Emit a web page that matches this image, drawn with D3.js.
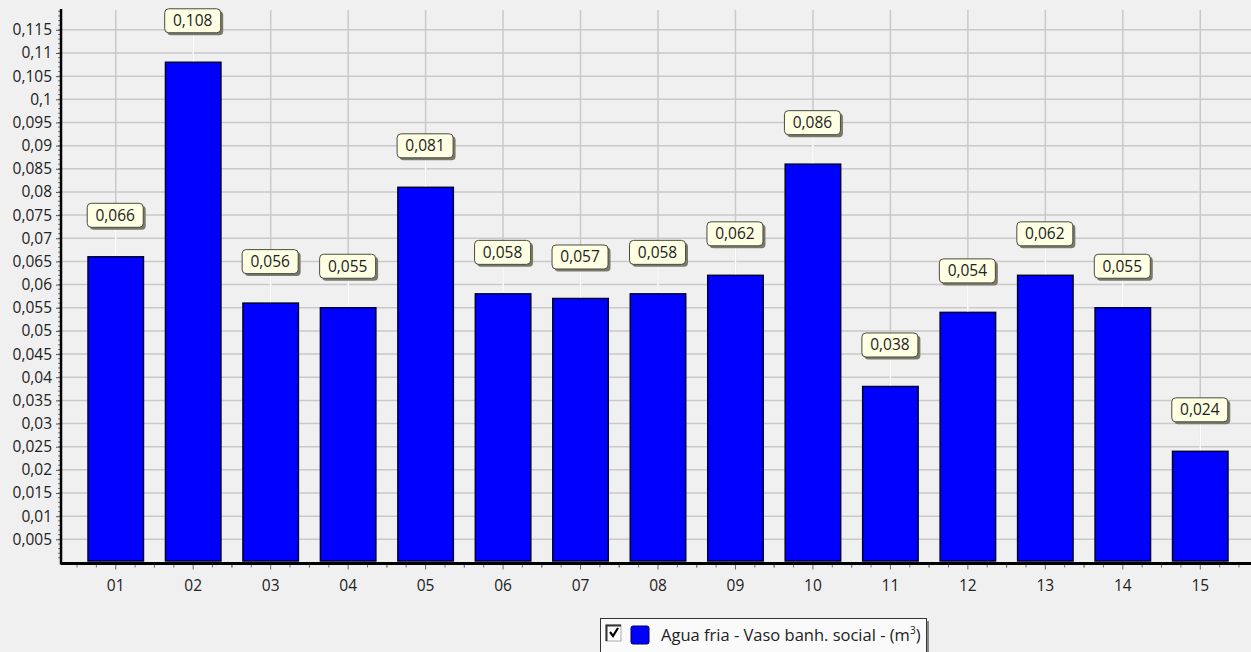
<html>
  <head>
    <meta charset="utf-8">
    <style>
      body { margin: 0; background: #f0f0f0; overflow: hidden; }
      #chart text { font-family: "Open Sans", "Noto Sans", sans-serif; fill: #222; }
    </style>
    <script src="https://d3js.org/d3.v7.min.js"></script>
  </head>
  <body>
    <svg id="chart"></svg>
    <script>
      // data
      const categories = ['01', '02', '03', '04', '05', '06', '07', '08', '09', '10', '11', '12', '13', '14', '15'];
      const values = [0.066, 0.108, 0.056, 0.055, 0.081, 0.058, 0.057, 0.058, 0.062, 0.086, 0.038, 0.054, 0.062, 0.055, 0.024];
      const yTickValues = [0.005, 0.01, 0.015, 0.02, 0.025, 0.03, 0.035, 0.04, 0.045, 0.05, 0.055, 0.06,
        0.065, 0.07, 0.075, 0.08, 0.085, 0.09, 0.095, 0.1, 0.105, 0.11, 0.115];
      const seriesName = 'Agua fria - Vaso banh. social - (m';

      const width = 1251;
      const height = 652;
      const plot = { left: 61, right: 1251, top: 9, bottom: 562.5 };
      const fontSize = 15.5;

      const svg = d3.select('#chart').attr('width', width).attr('height', height);

      const x = d3.scaleBand()
        .domain(categories)
        .range([77, 1239])
        .paddingInner(0.284)
        .paddingOuter(0.142);

      const y = d3.scaleLinear()
        .domain([0, 0.1195])
        .range([plot.bottom, plot.top]);

      const fmt = (v) => String(+v.toFixed(3)).replace('.', ',');
      const center = (c) => x(c) + x.bandwidth() / 2;

      // grid
      const grid = svg.append('g').attr('class', 'grid');
      grid.selectAll('line.h')
        .data(yTickValues)
        .join('line')
        .attr('class', 'h')
        .attr('x1', plot.left)
        .attr('x2', plot.right)
        .attr('y1', (d) => y(d))
        .attr('y2', (d) => y(d))
        .attr('stroke', '#c9c9c9')
        .attr('stroke-width', 1.5);
      grid.selectAll('line.v')
        .data(categories)
        .join('line')
        .attr('class', 'v')
        .attr('x1', center)
        .attr('x2', center)
        .attr('y1', plot.top + 1)
        .attr('y2', plot.bottom)
        .attr('stroke', '#c9c9c9')
        .attr('stroke-width', 1.5);

      // bars
      svg.append('g')
        .selectAll('rect')
        .data(values)
        .join('rect')
        .attr('x', (d, i) => x(categories[i]))
        .attr('y', (d) => y(d))
        .attr('width', x.bandwidth())
        .attr('height', (d) => y(0) - y(d) - 1.5)
        .attr('fill', '#0000ff')
        .attr('stroke', '#000030')
        .attr('stroke-width', 1.5);

      // y axis with minor ticks
      const yMinor = d3.range(1, 120).map((k) => k / 1000);
      svg.append('g')
        .selectAll('line')
        .data(yMinor)
        .join('line')
        .attr('x1', plot.left - 3)
        .attr('x2', plot.left)
        .attr('y1', (d) => y(d))
        .attr('y2', (d) => y(d))
        .attr('stroke', '#777')
        .attr('stroke-width', 1);
      const yAxis = d3.axisLeft(y)
        .tickValues(yTickValues)
        .tickSize(5)
        .tickPadding(4)
        .tickFormat(fmt);
      const yAxisG = svg.append('g')
        .attr('transform', `translate(${plot.left},0)`)
        .call(yAxis);
      yAxisG.select('.domain').remove();
      yAxisG.selectAll('.tick line').attr('stroke', '#555');
      yAxisG.selectAll('.tick text').attr('font-size', fontSize).attr('fill', '#222');
      svg.append('line')
        .attr('x1', plot.left)
        .attr('x2', plot.left)
        .attr('y1', plot.top)
        .attr('y2', plot.bottom + 2)
        .attr('stroke', '#000')
        .attr('stroke-width', 2.5);

      // x axis: major ticks at the centers, minor ticks at quarter steps
      const xMinor = [];
      categories.forEach((c) => {
        [-2, -1, 1, 2].forEach((k) => xMinor.push({ c, k }));
      });
      svg.append('g')
        .selectAll('line')
        .data(xMinor)
        .join('line')
        .attr('x1', (d) => center(d.c) + d.k * x.step() / 4)
        .attr('x2', (d) => center(d.c) + d.k * x.step() / 4)
        .attr('y1', plot.bottom + 2)
        .attr('y2', plot.bottom + 5)
        .attr('stroke', '#777');
      const xAxis = d3.axisBottom(x).tickSize(6).tickPadding(10);
      const xAxisG = svg.append('g')
        .attr('transform', `translate(0,${plot.bottom + 1})`)
        .call(xAxis);
      xAxisG.select('.domain').remove();
      xAxisG.selectAll('.tick line').attr('stroke', '#666');
      xAxisG.selectAll('.tick text').attr('font-size', fontSize).attr('fill', '#222');
      svg.append('line')
        .attr('x1', plot.left)
        .attr('x2', plot.right)
        .attr('y1', plot.bottom + 1)
        .attr('y2', plot.bottom + 1)
        .attr('stroke', '#000')
        .attr('stroke-width', 3);

      // value labels
      const labels = svg.append('g')
        .selectAll('g')
        .data(values)
        .join('g')
        .attr('transform', (d, i) => `translate(${center(categories[i])},${y(d)})`);
      labels.append('line')
        .attr('x1', 0)
        .attr('x2', 0)
        .attr('y1', -1)
        .attr('y2', -29)
        .attr('stroke', '#fff')
        .attr('stroke-width', 1.5);
      labels.append('rect')
        .attr('x', -26)
        .attr('y', -51)
        .attr('width', 56)
        .attr('height', 24)
        .attr('rx', 4)
        .attr('fill', '#7a7a6a');
      labels.append('rect')
        .attr('x', -28.5)
        .attr('y', -53.5)
        .attr('width', 56)
        .attr('height', 24)
        .attr('rx', 4)
        .attr('fill', '#ffffe4')
        .attr('stroke', '#4a4a40')
        .attr('stroke-width', 1);
      labels.append('text')
        .attr('x', -0.5)
        .attr('y', -36)
        .attr('text-anchor', 'middle')
        .attr('font-size', fontSize)
        .text(fmt);

      // legend
      const legend = svg.append('g').attr('transform', 'translate(600,618)');
      legend.append('rect')
        .attr('x', 3).attr('y', 3).attr('width', 326).attr('height', 40)
        .attr('fill', '#888');
      legend.append('rect')
        .attr('x', 0.5).attr('y', 0.5).attr('width', 326).attr('height', 40)
        .attr('fill', '#fafafa')
        .attr('stroke', '#333')
        .attr('stroke-width', 1);
      // checkbox
      legend.append('rect')
        .attr('x', 6).attr('y', 7).attr('width', 15).attr('height', 16)
        .attr('fill', '#fff')
        .attr('stroke', '#aaa');
      legend.append('path')
        .attr('d', 'M6.5,23 V7.5 H21')
        .attr('fill', 'none')
        .attr('stroke', '#333')
        .attr('stroke-width', 2);
      legend.append('path')
        .attr('d', 'M10,14 L13,18 L18,10')
        .attr('fill', 'none')
        .attr('stroke', '#000')
        .attr('stroke-width', 2.2);
      legend.append('rect')
        .attr('x', 31).attr('y', 8).attr('width', 18).attr('height', 18)
        .attr('rx', 2)
        .attr('fill', '#0000ff')
        .attr('stroke', '#000050');
      const lt = legend.append('text')
        .attr('x', 61)
        .attr('y', 23)
        .attr('font-size', 16.5);
      lt.append('tspan').text(seriesName);
      lt.append('tspan').attr('font-size', 10).attr('dy', -7).text('3');
      lt.append('tspan').attr('dy', 7).text(')');
    </script>
  </body>
</html>
